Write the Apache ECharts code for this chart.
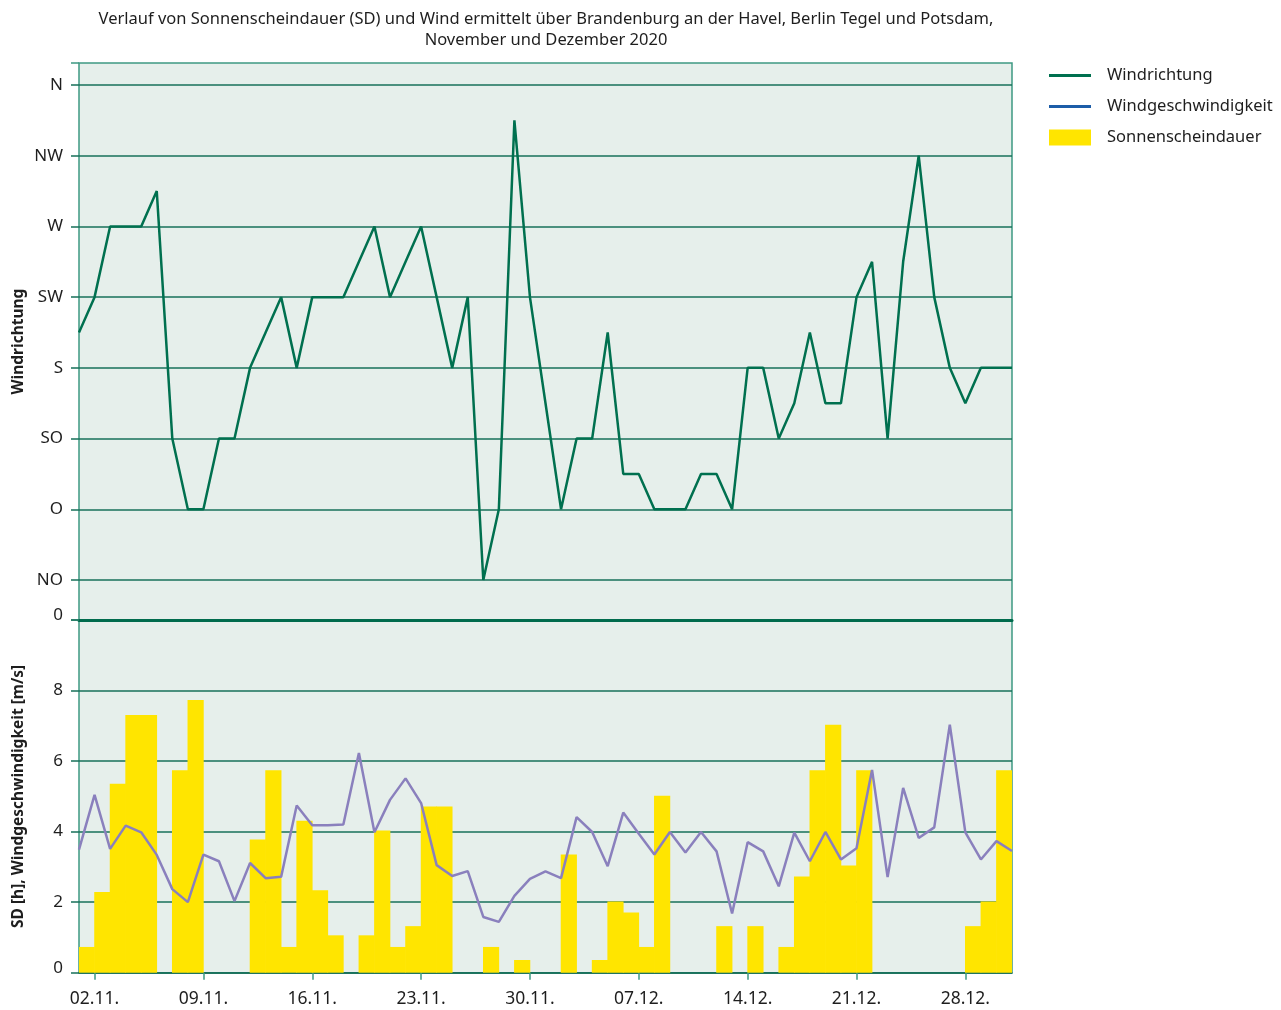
<!DOCTYPE html>
<html>
<head>
<meta charset="utf-8">
<script src="https://cdn.jsdelivr.net/npm/echarts@6/dist/echarts.min.js"></script>
<style>
html,body{margin:0;padding:0;background:#fff;}
#chart{width:1281px;height:1010px;}
</style>
</head>
<body>
<div id="chart"></div>
<script>
// ---- data ----
const dates = [
 '01.11.','02.11.','03.11.','04.11.','05.11.','06.11.','07.11.','08.11.','09.11.','10.11.',
 '11.11.','12.11.','13.11.','14.11.','15.11.','16.11.','17.11.','18.11.','19.11.','20.11.',
 '21.11.','22.11.','23.11.','24.11.','25.11.','26.11.','27.11.','28.11.','29.11.','30.11.',
 '01.12.','02.12.','03.12.','04.12.','05.12.','06.12.','07.12.','08.12.','09.12.','10.12.',
 '11.12.','12.12.','13.12.','14.12.','15.12.','16.12.','17.12.','18.12.','19.12.','20.12.',
 '21.12.','22.12.','23.12.','24.12.','25.12.','26.12.','27.12.','28.12.','29.12.','30.12.',
 '31.12.'
];
// sunshine bars: one per day interval (01.11. ... 30.12.)
const sunDays = dates.slice(0, 60);
const sunshine = [
 0.73,2.29,5.36,7.31,7.31,0,5.74,7.73,0,0,
 0,3.78,5.74,0.73,4.31,2.34,1.06,0,1.06,4.03,
 0.73,1.32,4.71,4.71,0,0,0.73,0,0.36,0,
 0,3.35,0,0.36,2.02,1.71,0.73,5.02,0,0,
 0,1.32,0,1.32,0,0.73,2.73,5.74,7.03,3.04,
 5.74,0,0,0,0,0,0,1.32,2.02,5.74
];
const windSpeed = [
 3.49,5.04,3.51,4.17,3.98,3.34,2.37,2.00,3.35,3.16,
 2.03,3.11,2.68,2.72,4.74,4.18,4.18,4.20,6.23,3.98,
 4.90,5.51,4.81,3.05,2.74,2.88,1.58,1.44,2.18,2.66,
 2.87,2.68,4.41,3.99,3.02,4.54,3.94,3.35,3.99,3.41,
 3.99,3.44,1.68,3.70,3.44,2.45,3.97,3.16,3.99,3.21,
 3.53,5.75,2.71,5.24,3.82,4.12,7.03,3.98,3.21,3.73,
 3.45
];
// wind direction in degrees (NO=45 ... N=360)
const windDir = [
 202.5,225,270,270,270,292.5,135,90,90,135,
 135,180,202.5,225,180,225,225,225,247.5,270,
 225,247.5,270,225,180,225,45,90,337.5,225,
 157.5,90,135,135,202.5,112.5,112.5,90,90,90,
 112.5,112.5,90,180,180,135,157.5,202.5,157.5,157.5,
 225,247.5,135,247.5,315,225,180,157.5,180,180,
 180
];
const dirLabels = {45:'NO',90:'O',135:'SO',180:'S',225:'SW',270:'W',315:'NW',360:'N'};
const speedTicks = [0,2,4,6,8];
const titleLines = [
 'Verlauf von Sonnenscheindauer (SD) und Wind ermittelt über Brandenburg an der Havel, Berlin Tegel und Potsdam,',
 'November und Dezember 2020'
];

// ---- styling ----
const FONT = 'Noto Sans';
const TXT = '#1e1e1e';
const BG = '#e6efeb';
const BORDER = '#3e9983';
const GRIDC = '#17705a';
const DIRC = '#00704f';
const SPEEDC = '#8a80bd';
const SUNC = '#ffe500';

const L = 79, W = 933;
const labelIdx = (i) => (i - 1) % 7 === 0;
const raised = {z: {padding:[0,0,10,0], fontSize:17, color:TXT, fontFamily:FONT}};

const chart = echarts.init(document.getElementById('chart'), null, {renderer:'canvas'});
chart.setOption({
  animation: false,
  textStyle: {fontFamily: FONT},
  graphic: [
    {type:'text', x:546, y:19, style:{text:titleLines[0], align:'center', verticalAlign:'middle', font:'16.5px "Noto Sans"', fill:TXT}},
    {type:'text', x:546, y:40, style:{text:titleLines[1], align:'center', verticalAlign:'middle', font:'16.5px "Noto Sans"', fill:TXT}}
  ],
  legend: {
    orient:'vertical', left:1044, top:62, itemWidth:42, itemHeight:16, itemGap:14,
    textStyle:{fontSize:16.5, color:TXT, fontFamily:FONT, padding:[0,0,0,11]},
    data:[
      {name:'Windrichtung', icon:'path://M0,0L42,0L42,3L0,3Z', itemStyle:{color:DIRC}},
      {name:'Windgeschwindigkeit', icon:'path://M0,0L42,0L42,3L0,3Z', itemStyle:{color:'#1c5da8'}},
      {name:'Sonnenscheindauer', icon:'rect', itemStyle:{color:SUNC}}
    ]
  },
  grid: [
    {left:L, width:W, top:63, height:557, show:true, backgroundColor:BG, borderColor:BORDER, borderWidth:1.5},
    {left:L, width:W, top:85, height:495},
    {left:L, width:W, top:620, height:352.7, show:true, backgroundColor:BG, borderColor:BORDER, borderWidth:1.5}
  ],
  xAxis: [
    {gridIndex:0, type:'category', data:dates, boundaryGap:false, position:'bottom',
     axisLine:{show:true, lineStyle:{color:'#006b4d', width:3}}, axisTick:{show:false}, axisLabel:{show:false}, splitLine:{show:false}},
    {gridIndex:1, type:'category', data:dates, boundaryGap:false, show:false},
    {gridIndex:2, type:'category', data:dates, boundaryGap:false, position:'bottom',
     axisLine:{show:true, lineStyle:{color:GRIDC, width:1.5}},
     axisTick:{show:true, length:7, interval:(i)=>labelIdx(i), lineStyle:{color:BORDER, width:1.5}},
     axisLabel:{interval:(i)=>labelIdx(i), fontSize:17.5, color:TXT, margin:17, fontFamily:FONT},
     splitLine:{show:false}},
    {gridIndex:2, type:'category', data:sunDays, boundaryGap:true, show:false}
  ],
  yAxis: [
    {gridIndex:0, type:'value', min:0, max:1, interval:1,
     name:'Windrichtung', nameLocation:'middle', nameGap:52,
     nameTextStyle:{fontSize:15.5, fontWeight:'bold', color:TXT, fontFamily:FONT},
     axisLine:{show:false}, axisTick:{show:true, length:8, lineStyle:{color:BORDER, width:1.5}},
     axisLabel:{show:true, fontSize:17, color:TXT, margin:16, rich:raised,
       formatter:(v)=> v===0 ? '{z|0}' : ''},
     splitLine:{show:false}},
    {gridIndex:1, type:'value', min:45, max:360, interval:45,
     axisLine:{show:false}, axisTick:{show:true, length:8, lineStyle:{color:GRIDC, width:1.5}},
     axisLabel:{fontSize:17, color:TXT, margin:16, formatter:(v)=>dirLabels[v] || ''},
     splitLine:{show:true, lineStyle:{color:GRIDC, width:1.5}}},
    {gridIndex:2, type:'value', min:0, max:10, interval:2,
     name:'SD [h], Windgeschwindigkeit [m/s]', nameLocation:'middle', nameGap:52,
     nameTextStyle:{fontSize:15.5, fontWeight:'bold', color:TXT, fontFamily:FONT},
     axisLine:{show:false}, axisTick:{show:true, length:8, lineStyle:{color:GRIDC, width:1.5}},
     axisLabel:{fontSize:17, color:TXT, margin:16, rich:raised,
       formatter:(v)=> v===0 ? '{z|0}' : (speedTicks.indexOf(v) >= 0 ? String(v) : '')},
     splitLine:{show:true, lineStyle:{color:GRIDC, width:1.5}}}
  ],
  series: [
    {name:'Windrichtung', type:'line', xAxisIndex:1, yAxisIndex:1, data:windDir,
     symbol:'none', color:DIRC, lineStyle:{color:DIRC, width:2.5}, z:5},
    {name:'Sonnenscheindauer', type:'bar', xAxisIndex:3, yAxisIndex:2, data:sunshine,
     barWidth:16.2, barGap:'0%', itemStyle:{color:SUNC}, z:2},
    {name:'Windgeschwindigkeit', type:'line', xAxisIndex:2, yAxisIndex:2, data:windSpeed,
     symbol:'none', color:SPEEDC, lineStyle:{color:SPEEDC, width:2.5}, z:5}
  ]
});
</script>
</body>
</html>
